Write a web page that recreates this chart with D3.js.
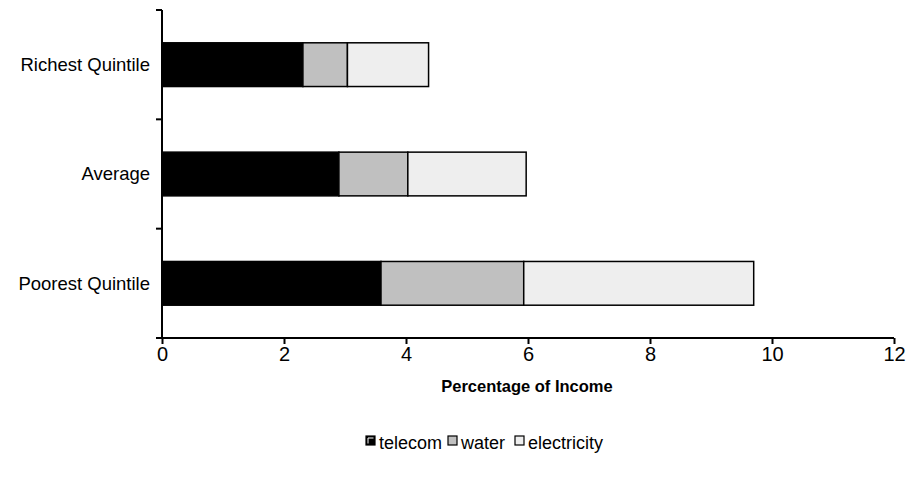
<!DOCTYPE html>
<html>
<head>
<meta charset="utf-8">
<script src="https://cdn.jsdelivr.net/npm/d3@7"></script>
<style>
  html, body { margin: 0; padding: 0; background: #fff; }
  svg { display: block; font-family: "Liberation Sans", Arial, sans-serif; }
</style>
</head>
<body>
<svg id="chart" width="909" height="485"></svg>
<script>
const categories = ["Richest Quintile", "Average", "Poorest Quintile"];
const seriesNames = ["telecom", "water", "electricity"];
const telecom = [2.31, 2.90, 3.59];
const water = [0.73, 1.13, 2.34];
const electricity = [1.33, 1.94, 3.77];
const xTicks = [0, 2, 4, 6, 8, 10, 12];
const colors = ["#000000", "#c0c0c0", "#eeeeee"];

const rows = categories.map((c, i) => ({ category: c, telecom: telecom[i], water: water[i], electricity: electricity[i] }));
const stacked = d3.stack().keys(seriesNames)(rows);

const svg = d3.select("#chart");
const x = d3.scaleLinear().domain([0, 12]).range([162, 894]);
const y = d3.scaleBand().domain(categories).range([10, 338]).paddingInner(0.6).paddingOuter(0.3);
const color = d3.scaleOrdinal().domain(seriesNames).range(colors);

// bars
svg.append("g").selectAll("g").data(stacked).join("g")
  .attr("fill", d => color(d.key))
  .selectAll("rect").data(d => d).join("rect")
  .attr("x", d => x(d[0]))
  .attr("y", d => y(d.data.category))
  .attr("width", d => x(d[1]) - x(d[0]))
  .attr("height", y.bandwidth())
  .attr("stroke", "#000")
  .attr("stroke-width", 1.5);

// x axis
const xAxis = svg.append("g")
  .attr("transform", "translate(0,338)")
  .call(d3.axisBottom(x).tickValues(xTicks).tickSize(6).tickSizeOuter(0).tickPadding(3));
xAxis.select(".domain").attr("stroke-width", 2).attr("d", `M${x(0) - 6},0H${x(12)}`);
xAxis.selectAll(".tick line").attr("stroke-width", 2);
xAxis.selectAll("text").attr("font-size", 20).attr("font-family", "Liberation Sans, Arial, sans-serif").attr("fill", "#000");

// y axis (ticks at category boundaries)
const y0 = y.range()[0];
const boundaries = d3.range(categories.length + 1).map(i => y0 + i * (y.range()[1] - y0) / categories.length);
const yAxisG = svg.append("g");
yAxisG.append("line").attr("x1", x(0)).attr("x2", x(0)).attr("y1", y.range()[0]).attr("y2", y.range()[1])
  .attr("stroke", "#000").attr("stroke-width", 2);
yAxisG.selectAll("line.tk").data(boundaries).join("line").attr("class", "tk")
  .attr("x1", x(0) - 6).attr("x2", x(0)).attr("y1", d => d).attr("y2", d => d)
  .attr("stroke", "#000").attr("stroke-width", 2);
yAxisG.selectAll("text").data(categories).join("text")
  .attr("x", x(0) - 12)
  .attr("y", d => y(d) + y.bandwidth() / 2)
  .attr("dy", "0.35em")
  .attr("text-anchor", "end")
  .attr("font-size", 18.5)
  .text(d => d);

// axis title
svg.append("text")
  .attr("x", (x(0) + x(12)) / 2 - 1)
  .attr("y", 392)
  .attr("text-anchor", "middle")
  .attr("font-size", 16.5)
  .attr("font-weight", "bold")
  .text("Percentage of Income");

// legend
const legendX = [366, 448, 515];
const lg = svg.append("g").selectAll("g").data(seriesNames).join("g")
  .attr("transform", (d, i) => `translate(${legendX[i]},436)`);
lg.append("rect").attr("width", 9).attr("height", 9)
  .attr("fill", d => color(d)).attr("stroke", "#000").attr("stroke-width", 1.2);
lg.append("path").attr("d", "M2,7.5V2H7.5").attr("fill", "none")
  .attr("stroke", d => d === "telecom" ? "#fff" : "none").attr("stroke-width", 1);
lg.append("text").attr("x", 13).attr("y", 13).attr("font-size", 18).text(d => d);
</script>
</body>
</html>
